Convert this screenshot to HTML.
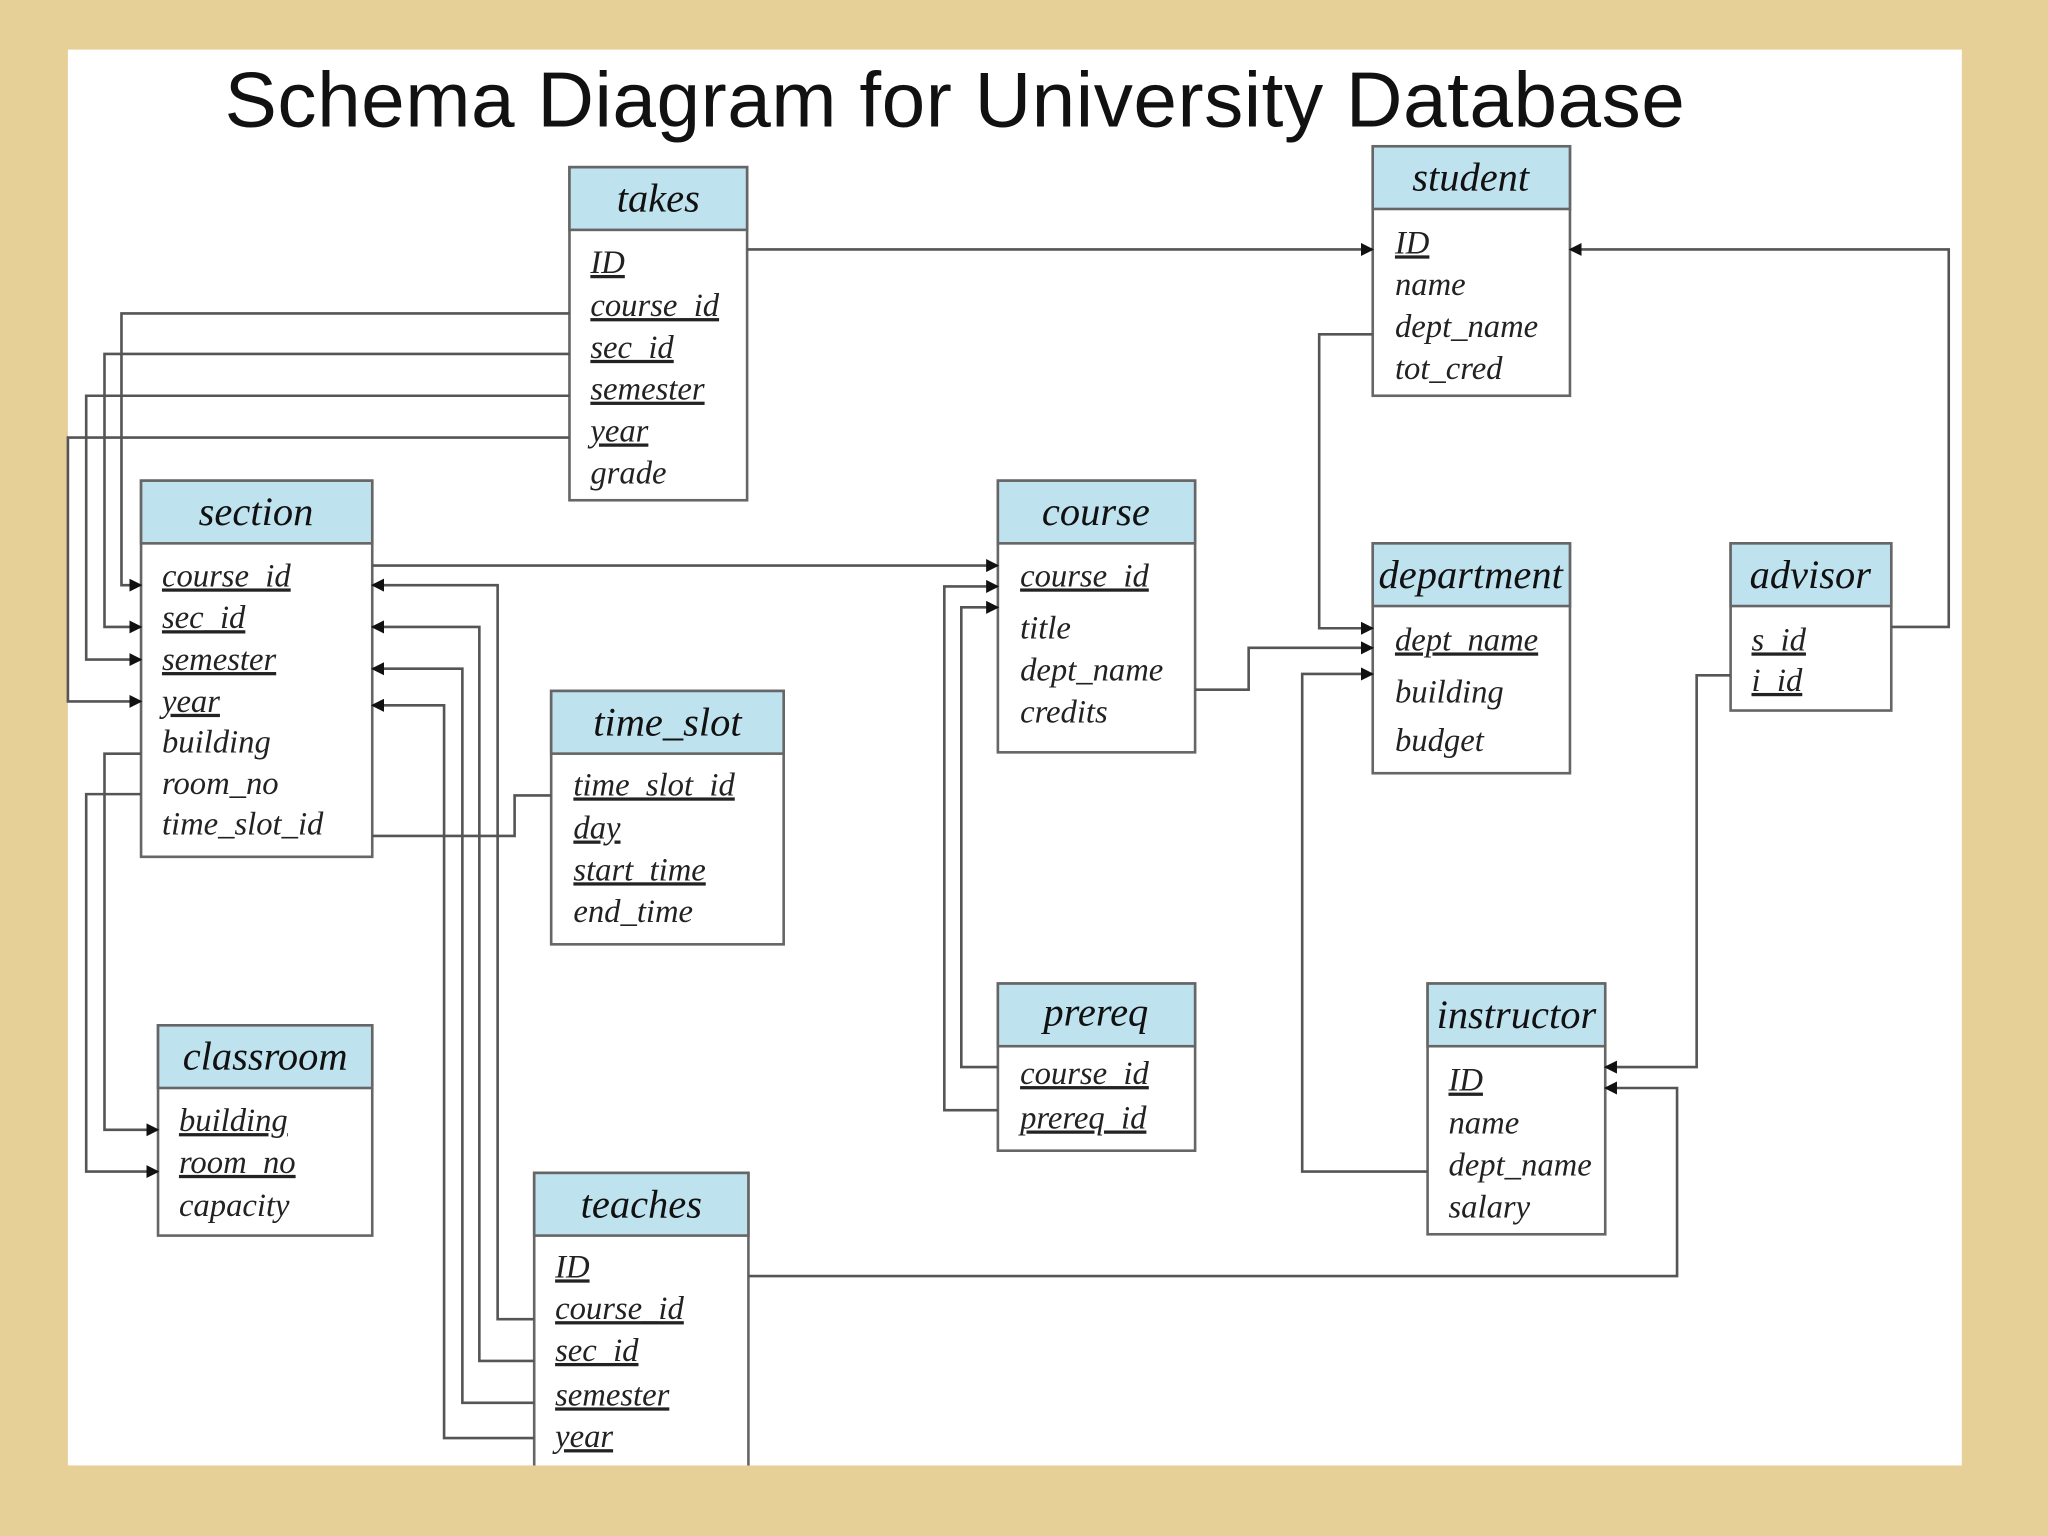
<!DOCTYPE html>
<html><head><meta charset="utf-8"><style>
html,body{margin:0;padding:0;width:2048px;height:1536px;overflow:hidden;background:#e6d098}
svg{display:block}
.h{font-family:"Liberation Serif",serif;font-style:italic;font-size:31px;fill:#111;text-anchor:middle}
.b{font-family:"Liberation Serif",serif;font-style:italic;font-size:25px;fill:#222}
.k{text-decoration:underline}
.ln{fill:none;stroke:#555;stroke-width:2}
</style></head><body>
<svg width="2048" height="1536" viewBox="0 0 1568 1176" xmlns="http://www.w3.org/2000/svg">
<defs><marker id="a" markerWidth="10" markerHeight="10" refX="9" refY="5" orient="auto" markerUnits="userSpaceOnUse"><path d="M0,0 L10,5 L0,10 z" fill="#111"/></marker></defs>
<rect x="0" y="0" width="1568" height="1176" fill="#e6d098"/>
<rect x="52" y="38" width="1450" height="1084" fill="#fff"/>
<text x="172" y="97" font-family="Liberation Sans,sans-serif" font-size="60" fill="#111" textLength="1118">Schema Diagram for University Database</text>

<g stroke="#666" stroke-width="2">
<rect x="436" y="128" width="136" height="255" fill="#fff"/><rect x="436" y="128" width="136" height="48" fill="#bfe2ef"/>
<rect x="1051" y="112" width="151" height="191" fill="#fff"/><rect x="1051" y="112" width="151" height="48" fill="#bfe2ef"/>
<rect x="108" y="368" width="177" height="288" fill="#fff"/><rect x="108" y="368" width="177" height="48" fill="#bfe2ef"/>
<rect x="764" y="368" width="151" height="208" fill="#fff"/><rect x="764" y="368" width="151" height="48" fill="#bfe2ef"/>
<rect x="1051" y="416" width="151" height="176" fill="#fff"/><rect x="1051" y="416" width="151" height="48" fill="#bfe2ef"/>
<rect x="1325" y="416" width="123" height="128" fill="#fff"/><rect x="1325" y="416" width="123" height="48" fill="#bfe2ef"/>
<rect x="422" y="529" width="178" height="194" fill="#fff"/><rect x="422" y="529" width="178" height="48" fill="#bfe2ef"/>
<rect x="764" y="753" width="151" height="128" fill="#fff"/><rect x="764" y="753" width="151" height="48" fill="#bfe2ef"/>
<rect x="1093" y="753" width="136" height="192" fill="#fff"/><rect x="1093" y="753" width="136" height="48" fill="#bfe2ef"/>
<rect x="121" y="785" width="164" height="161" fill="#fff"/><rect x="121" y="785" width="164" height="48" fill="#bfe2ef"/>
<rect x="409" y="898" width="164" height="240" fill="#fff"/><rect x="409" y="898" width="164" height="48" fill="#bfe2ef"/>
</g>

<text class="h" x="504" y="162">takes</text>
<text class="b k" x="452" y="209">ID</text><text class="b k" x="452" y="242">course_id</text><text class="b k" x="452" y="274">sec_id</text><text class="b k" x="452" y="306">semester</text><text class="b k" x="452" y="338">year</text><text class="b" x="452" y="370">grade</text>

<text class="h" x="1126" y="146">student</text>
<text class="b k" x="1068" y="194">ID</text><text class="b" x="1068" y="226">name</text><text class="b" x="1068" y="258">dept_name</text><text class="b" x="1068" y="290">tot_cred</text>

<text class="h" x="196" y="402">section</text>
<text class="b k" x="124" y="449">course_id</text><text class="b k" x="124" y="481">sec_id</text><text class="b k" x="124" y="513">semester</text><text class="b k" x="124" y="545">year</text><text class="b" x="124" y="576">building</text><text class="b" x="124" y="608">room_no</text><text class="b" x="124" y="639">time_slot_id</text>

<text class="h" x="839" y="402">course</text>
<text class="b k" x="781" y="449">course_id</text><text class="b" x="781" y="489">title</text><text class="b" x="781" y="521">dept_name</text><text class="b" x="781" y="553">credits</text>

<text class="h" x="1126" y="450">department</text>
<text class="b k" x="1068" y="498">dept_name</text><text class="b" x="1068" y="538">building</text><text class="b" x="1068" y="575">budget</text>

<text class="h" x="1386" y="450">advisor</text>
<text class="b k" x="1341" y="498">s_id</text><text class="b k" x="1341" y="529">i_id</text>

<text class="h" x="511" y="563">time_slot</text>
<text class="b k" x="439" y="609">time_slot_id</text><text class="b k" x="439" y="642">day</text><text class="b k" x="439" y="674">start_time</text><text class="b" x="439" y="706">end_time</text>

<text class="h" x="839" y="785">prereq</text>
<text class="b k" x="781" y="830">course_id</text><text class="b k" x="781" y="864">prereq_id</text>

<text class="h" x="1161" y="787">instructor</text>
<text class="b k" x="1109" y="835">ID</text><text class="b" x="1109" y="868">name</text><text class="b" x="1109" y="900">dept_name</text><text class="b" x="1109" y="932">salary</text>

<text class="h" x="203" y="819">classroom</text>
<text class="b k" x="137" y="866">building</text><text class="b k" x="137" y="898">room_no</text><text class="b" x="137" y="931">capacity</text>

<text class="h" x="491" y="932">teaches</text>
<text class="b k" x="425" y="978">ID</text><text class="b k" x="425" y="1010">course_id</text><text class="b k" x="425" y="1042">sec_id</text><text class="b k" x="425" y="1076">semester</text><text class="b k" x="425" y="1108">year</text>

<rect x="0" y="1122" width="1568" height="54" fill="#e6d098"/>

<g class="ln" marker-end="url(#a)">
<path d="M572,191 H1051"/>
<path d="M436,240 H93 V448 H108"/>
<path d="M436,271 H80 V480 H108"/>
<path d="M436,303 H66 V505 H108"/>
<path d="M436,335 H52 V537 H108"/>
<path d="M108,577 H80 V865 H121"/>
<path d="M108,608 H66 V897 H121"/>
<path d="M285,433 H764"/>
<path d="M409,1010 H381 V448 H285"/>
<path d="M409,1042 H367 V480 H285"/>
<path d="M409,1074 H354 V512 H285"/>
<path d="M409,1101 H340 V540 H285"/>
<path d="M573,977 H1284 V833 H1229"/>
<path d="M764,817 H736 V465 H764"/>
<path d="M764,850 H723 V449 H764"/>
<path d="M915,528 H956 V496 H1051"/>
<path d="M1051,256 H1010 V481 H1051"/>
<path d="M1093,897 H997 V516 H1051"/>
<path d="M1448,480 H1492 V191 H1202"/>
<path d="M1325,517 H1299 V817 H1229"/>
</g>
<path class="ln" d="M285,640 H394 V609 H422"/>
</svg>
</body></html>
